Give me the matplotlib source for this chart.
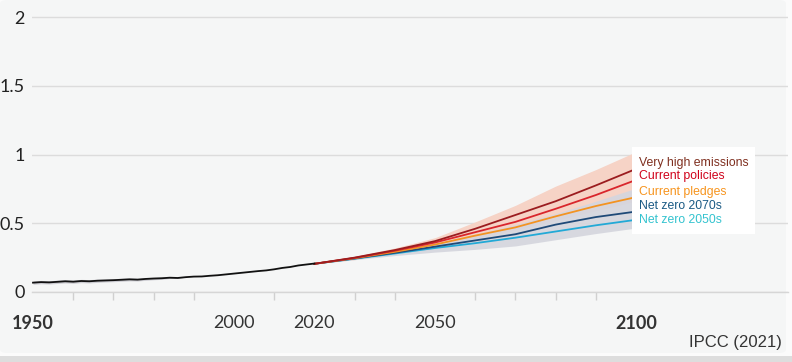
import matplotlib
matplotlib.use("Agg")
import matplotlib.pyplot as plt
from matplotlib.patches import FancyBboxPatch, Rectangle
from matplotlib.ticker import FixedLocator

# ---------------- data ----------------
hist_years = [1950, 1952, 1954, 1956, 1958, 1960, 1962, 1964, 1966, 1968,
              1970, 1972, 1974, 1976, 1978, 1980, 1982, 1984, 1986, 1988,
              1990, 1992, 1994, 1996, 1998, 2000, 2002, 2004, 2006, 2008,
              2010, 2012, 2014, 2016, 2018, 2020]
hist_vals = [0.068, 0.072, 0.070, 0.074, 0.078, 0.075, 0.080, 0.078, 0.082, 0.084,
             0.086, 0.089, 0.092, 0.090, 0.095, 0.098, 0.100, 0.104, 0.102, 0.108,
             0.112, 0.113, 0.118, 0.122, 0.128, 0.134, 0.140, 0.146, 0.152, 0.157,
             0.165, 0.175, 0.182, 0.193, 0.200, 0.207]
hist_unc = [0.012, 0.012, 0.012, 0.012, 0.012, 0.012, 0.012, 0.012, 0.012, 0.011,
            0.011, 0.011, 0.011, 0.010, 0.010, 0.009, 0.008, 0.006, 0.003, 0.0,
            0.0, 0.0, 0.0, 0.0, 0.0, 0.0, 0.0, 0.0, 0.0, 0.0,
            0.0, 0.0, 0.0, 0.0, 0.0, 0.0]

proj_years = [2020, 2030, 2040, 2050, 2060, 2070, 2080, 2090, 2100]
very_high = [0.205, 0.250, 0.305, 0.370, 0.460, 0.560, 0.660, 0.775, 0.895]
current_policies = [0.205, 0.248, 0.300, 0.360, 0.435, 0.510, 0.605, 0.705, 0.815]
current_pledges = [0.205, 0.246, 0.292, 0.345, 0.410, 0.470, 0.550, 0.625, 0.690]
net_zero_2070s = [0.205, 0.244, 0.285, 0.330, 0.375, 0.420, 0.490, 0.545, 0.585]
net_zero_2050s = [0.205, 0.242, 0.280, 0.320, 0.355, 0.395, 0.440, 0.485, 0.525]

vh_lo = [0.205, 0.235, 0.280, 0.330, 0.390, 0.450, 0.520, 0.590, 0.660]
vh_hi = [0.205, 0.260, 0.320, 0.395, 0.510, 0.630, 0.770, 0.890, 1.020]
nz_lo = [0.205, 0.235, 0.265, 0.290, 0.310, 0.335, 0.380, 0.425, 0.465]
nz_hi = [0.205, 0.250, 0.300, 0.355, 0.420, 0.490, 0.570, 0.660, 0.755]

series_labels = ["Very high emissions", "Current policies", "Current pledges",
                 "Net zero 2070s", "Net zero 2050s"]

x_major = [1950, 2000, 2020, 2050, 2100]
x_major_labels = ["1950", "2000", "2020", "2050", "2100"]
x_minor = [1950, 1960, 1970, 1980, 1990, 2000, 2010, 2020, 2030, 2040,
           2050, 2060, 2070, 2080, 2090, 2100]
y_ticks = [0, 0.5, 1, 1.5, 2]
y_tick_labels = ["0", "0.5", "1", "1.5", "2"]

# ---------------- figure ----------------
W, H = 792, 362
fig = plt.figure(figsize=(W / 100, H / 100), dpi=100, facecolor="#fbfbfb")

fig.patches.append(Rectangle((0, 0), 1, 6 / H, transform=fig.transFigure,
                             facecolor="#dddddd", edgecolor="none", zorder=-10))
fig.patches.append(FancyBboxPatch((0, 9 / H), 786 / W, (H - 9) / H,
                                  boxstyle="round,pad=0,rounding_size=0.01",
                                  transform=fig.transFigure, facecolor="#f5f6f6",
                                  edgecolor="none", zorder=-9))

ax_left, ax_right = 32, 788
ax_bottom_px, ax_top_px = 292, 10
ax = fig.add_axes([ax_left / W, (H - ax_bottom_px) / H,
                   (ax_right - ax_left) / W, (ax_bottom_px - ax_top_px) / H])
ax.set_facecolor("none")

x0 = 1949.75
ppy = 4.02
ax.set_xlim(x0, x0 + (ax_right - ax_left) / ppy)
ax.set_ylim(0, 2.0 + (17 - ax_top_px) / 137.5)

for y in y_ticks:
    ax.axhline(y, color="#dcdcdc", lw=1.0, zorder=0)

# bands
ax.fill_between(proj_years, vh_lo, vh_hi, color="#f6d3c6", lw=0, zorder=1)
ax.fill_between(proj_years, nz_lo, nz_hi, color="#d5d6de", alpha=0.92, lw=0, zorder=2)
hl = [v - u for v, u in zip(hist_vals, hist_unc)]
hh = [v + u for v, u in zip(hist_vals, hist_unc)]
ax.fill_between(hist_years, hl, hh, color="#cdcdd3", lw=0, zorder=2)

# lines
ax.plot(hist_years, hist_vals, color="#111111", lw=1.3, zorder=6)
line_colors = ["#9b1c1f", "#d9262c", "#f39322", "#1f4a78", "#22a9d6"]
all_series = [very_high, current_policies, current_pledges, net_zero_2070s, net_zero_2050s]
for i, (vals, c) in enumerate(zip(all_series, line_colors)):
    ax.plot(proj_years, vals, color=c, lw=1.3, zorder=5 - i * 0.1)

# axes styling
for s in ["left", "right", "top"]:
    ax.spines[s].set_visible(False)
ax.spines["bottom"].set_color("#d6d6d6")
ax.spines["bottom"].set_linewidth(1.0)

ax.xaxis.set_major_locator(FixedLocator(x_major))
ax.set_xticklabels(x_major_labels)
ax.xaxis.set_minor_locator(FixedLocator(x_minor))
ax.tick_params(axis="x", which="major", length=0, pad=16.5,
               labelsize=13, labelcolor="#333333")
ax.tick_params(axis="x", which="minor", length=6, width=1.0, color="#d0d0d0")

ax.set_yticks(y_ticks)
ax.set_yticklabels(y_tick_labels)
ax.tick_params(axis="y", length=0, pad=5, labelsize=13, labelcolor="#222222")

for lab in ax.get_xticklabels() + ax.get_yticklabels():
    lab.set_fontfamily("Lato")
bold_years = {"1950", "2100"}
for lab in ax.get_xticklabels():
    if lab.get_text() in bold_years:
        lab.set_fontweight("bold")

# legend box
fig.patches.append(Rectangle((632 / W, (H - 234) / H), (755 - 632) / W, (234 - 147) / H,
                             transform=fig.transFigure, facecolor="white",
                             edgecolor="none", zorder=10))
text_colors = ["#7e2e1e", "#d0021b", "#f7941d", "#1a5a84", "#33c3cf"]
text_ys = [162.5, 176, 191.5, 206, 220]
for lab, c, ty in zip(series_labels, text_colors, text_ys):
    fig.text(639 / W, (H - ty) / H, lab, color=c, fontsize=8.8,
             family="Liberation Sans", va="center", ha="left", zorder=11)

fig.text(782 / W, (H - 343) / H, "IPCC (2021)", color="#333333", fontsize=12,
         family="Liberation Sans", ha="right", va="center")

fig.savefig("out.png", dpi=100, facecolor=fig.get_facecolor())
